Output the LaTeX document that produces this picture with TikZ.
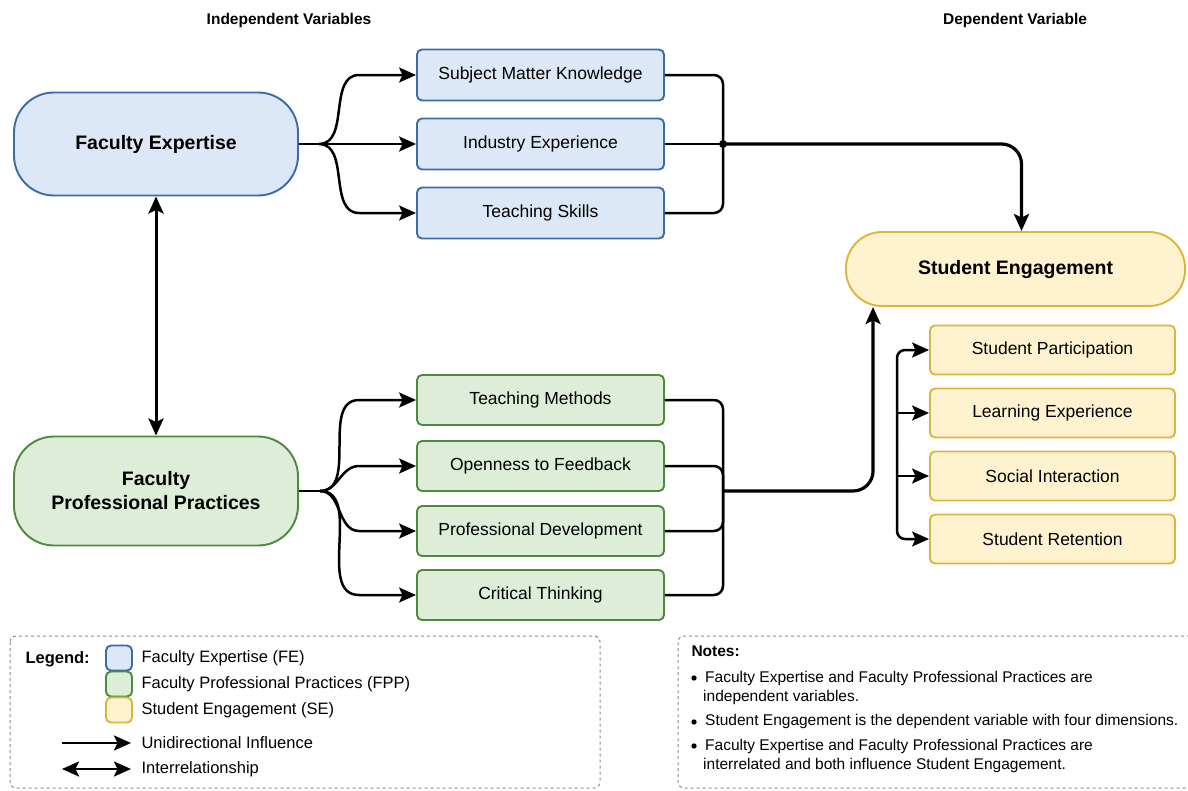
\documentclass[tikz,border=0pt]{standalone}
\usepackage{fontspec}
\setmainfont{Liberation Sans}
\usetikzlibrary{arrows.meta}

\definecolor{feborda}{HTML}{3D6BA6}
\definecolor{fefundo}{HTML}{DCE8F7}
\definecolor{fppborda}{HTML}{4E8A3E}
\definecolor{fppfundo}{HTML}{DDEDD8}
\definecolor{seborda}{HTML}{DDB53C}
\definecolor{sefundo}{HTML}{FFF3CF}
\definecolor{moldcor}{HTML}{8C8C8C}

\begin{document}
\begin{tikzpicture}[x=1pt, y=-1pt,
    titulo/.style={font=\bfseries\fontsize{15.5}{18}\selectfont},
    grande/.style={rounded corners=40pt, line width=1.9pt, minimum width=284pt, align=center,
        font=\bfseries\fontsize{19.5}{24}\selectfont},
    caixa/.style={rounded corners=5pt, line width=1.9pt, font=\fontsize{17.5}{21}\selectfont},
    subfe/.style={caixa, draw=feborda, fill=fefundo, minimum width=247pt, minimum height=51pt},
    subfpp/.style={caixa, draw=fppborda, fill=fppfundo, minimum width=247pt, minimum height=50pt},
    subse/.style={caixa, draw=seborda, fill=sefundo, minimum width=245pt, minimum height=49pt},
    ponta/.tip={Stealth[length=17pt, width=15pt, inset=3.5pt]},
    linha/.style={line width=2.5pt},
    seta/.style={linha, -ponta},
    dupla/.style={linha, ponta-ponta},
    tronco/.style={seta, line width=3.2pt, rounded corners=20pt},
    moldura/.style={draw=moldcor, dashed, line width=1pt, rounded corners=6pt},
    amostra/.style={rounded corners=5pt, line width=1.9pt, minimum width=26pt, minimum height=25pt, inner sep=0pt},
    ponto/.style={circle, fill, inner sep=1.9pt},
    leg/.style={anchor=west, font=\fontsize{16.5}{19}\selectfont},
    nota/.style={anchor=west, align=left, inner sep=0pt, font=\fontsize{15.5}{21}\selectfont}]

    % Fundo e limites
    \path[use as bounding box, fill=white] (0,0) rectangle (1188,790);

    % Titulos
    \node[titulo] (tind) at (289,20) {Independent Variables};
    \node[titulo] (tdep) at (1015,20) {Dependent Variable};

    % Faculty Expertise
    \node[grande, draw=feborda, fill=fefundo, minimum height=103pt] (fe) at (156,144) {Faculty Expertise};
    \node[subfe] (smk) at (540.5,75) {Subject Matter Knowledge};
    \node[subfe] (ie) at (540.5,144) {Industry Experience};
    \node[subfe] (ts) at (540.5,213) {Teaching Skills};

    % Faculty Professional Practices
    \node[grande, draw=fppborda, fill=fppfundo, minimum height=109pt] (fpp) at (156,491) {Faculty\\Professional Practices};
    \node[subfpp] (tm) at (540.5,400) {Teaching Methods};
    \node[subfpp] (of) at (540.5,466) {Openness to Feedback};
    \node[subfpp] (pd) at (540.5,531) {Professional Development};
    \node[subfpp] (ct) at (540.5,595) {Critical Thinking};

    % Student Engagement
    \node[grande, draw=seborda, fill=sefundo, rounded corners=36pt, minimum width=339pt, minimum height=74pt] (se) at (1015.5,269) {Student Engagement};
    \node[subse] (sp) at (1052.5,350) {Student Participation};
    \node[subse] (le) at (1052.5,413) {Learning Experience};
    \node[subse] (si) at (1052.5,476) {Social Interaction};
    \node[subse] (sr) at (1052.5,539) {Student Retention};

    % Ramificacoes
    \coordinate (feg) at ([xshift=20pt]fe.east);
    \coordinate (fppg) at ([xshift=21pt]fpp.east);
    \draw[linha] (fe.east) -- (feg);
    \draw[seta] (feg) to[out=0,in=180] ([xshift=-57pt]smk.west) -- (smk.west);
    \draw[seta] (feg) -- (ie.west);
    \draw[seta] (feg) to[out=0,in=180] ([xshift=-57pt]ts.west) -- (ts.west);
    \draw[linha] (fpp.east) -- (fppg);
    \draw[seta] (fppg) to[out=0,in=180] ([xshift=-57pt]tm.west) -- (tm.west);
    \draw[seta] (fppg) to[out=0,in=180] ([xshift=-57pt]of.west) -- (of.west);
    \draw[seta] (fppg) to[out=0,in=180] ([xshift=-57pt]pd.west) -- (pd.west);
    \draw[seta] (fppg) to[out=0,in=180] ([xshift=-57pt]ct.west) -- (ct.west);

    % Juncoes
    \coordinate (jfe) at (723,144);
    \coordinate (jfpp) at (723,491);
    \draw[linha, rounded corners=9pt] (smk.east) -| (jfe);
    \draw[linha] (ie.east) -- (jfe);
    \draw[linha, rounded corners=9pt] (ts.east) -| (jfe);
    \fill (jfe) circle (4pt);
    \draw[linha, rounded corners=9pt] (tm.east) -| (jfpp);
    \draw[linha, rounded corners=9pt] (of.east) -| (jfpp);
    \draw[linha, rounded corners=9pt] (pd.east) -| (jfpp);
    \draw[linha, rounded corners=9pt] (ct.east) -| (jfpp);

    % Influencias
    \draw[tronco] (jfe) -| ([xshift=6pt]se.north);
    \draw[tronco] (jfpp) -| ([xshift=28pt]se.south west);
    \draw[dupla, line width=3pt] (fe.south) -- (fpp.north);

    % Dimensoes
    \coordinate (sebar) at (897,444);
    \draw[seta, rounded corners=8pt] (sebar) |- (sp.west);
    \draw[seta, rounded corners=8pt] (sebar) |- (sr.west);
    \draw[seta] (sebar |- le.west) -- (le.west);
    \draw[seta] (sebar |- si.west) -- (si.west);

    % Legenda
    \draw[moldura] (10,636) rectangle (600,788);
    \node[titulo, anchor=west, font=\bfseries\fontsize{16.5}{19}\selectfont] (tleg) at (22,659) {Legend:};
    \node[amostra, draw=feborda, fill=fefundo] (afe) at (119,658) {};
    \node[amostra, draw=fppborda, fill=fppfundo] (afpp) at (119,684) {};
    \node[amostra, draw=seborda, fill=sefundo] (ase) at (119,710) {};
    \node[leg] (lfe) at (138,658) {Faculty Expertise (FE)};
    \node[leg] (lfpp) at (138,684) {Faculty Professional Practices (FPP)};
    \node[leg] (lse) at (138,710) {Student Engagement (SE)};
    \node[leg] (luni) at (138,743) {Unidirectional Influence};
    \node[leg] (lint) at (138,769) {Interrelationship};
    \draw[seta] ([xshift=-76pt]luni.west) -- ([xshift=-7pt]luni.west);
    \draw[dupla] ([xshift=-76pt]lint.west) -- ([xshift=-7pt]lint.west);

    % Notas
    \draw[moldura] (678,636) rectangle (1200,788);
    \node[titulo, anchor=west] (tnot) at (688,651) {Notes:};
    \node[ponto] (b1) at (694,678) {};
    \node[nota] (n1) at (705,688) {Faculty Expertise and Faculty Professional Practices are\\[-2pt]\hspace*{-2pt}independent variables.};
    \node[ponto] (b2) at (694,722) {};
    \node[nota] (n2) at (705,721) {Student Engagement is the dependent variable with four dimensions.};
    \node[ponto] (b3) at (694,746) {};
    \node[nota] (n3) at (705,756) {Faculty Expertise and Faculty Professional Practices are\\[-2pt]\hspace*{-2pt}interrelated and both influence Student Engagement.};
\end{tikzpicture}
\end{document}
